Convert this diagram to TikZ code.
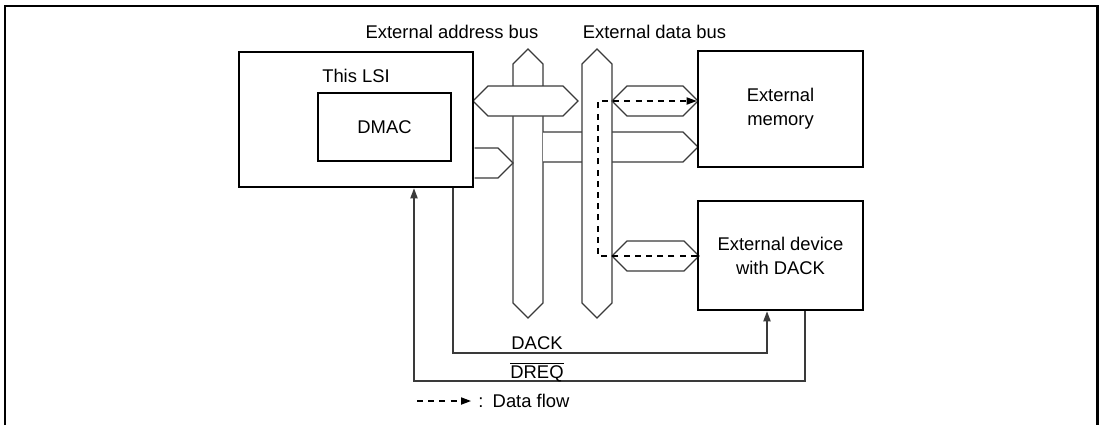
\documentclass[tikz,border=0pt]{standalone}
\usepackage{fontspec}
\setmainfont{Liberation Sans}
\usetikzlibrary{arrows.meta}
\definecolor{Wire}{HTML}{3A3A3A}
\tikzset{
  unit/.style={draw=black,line width=1.3pt,inner sep=0pt,align=center},
  wire/.style={draw=Wire,line width=.65pt},
  busline/.style={draw=Wire,line width=.65pt,fill=white},
  flow/.style={draw=black,line width=.6pt,dash pattern=on 3pt off 2.6pt,-{Triangle[length=5pt,width=3.6pt]}},
  sig/.style={wire,-{Triangle[length=5pt,width=3.6pt]}},
}
\newcommand{\vbus}[1]{%
  \filldraw[busline] (#1-15,64)--(#1,49)--(#1+15,64)--(#1+15,303)--(#1,318)--(#1-15,303)--cycle;
}
\newcommand{\dbus}[3]{%
  \filldraw[busline] (#1,#3)--(#1+15,#3-15)--(#2-15,#3-15)--(#2,#3)--(#2-15,#3+15)--(#1+15,#3+15)--cycle;
}
\newcommand{\sbus}[3]{%
  \filldraw[busline] (#1,#3-15)--(#2-15,#3-15)--(#2,#3)--(#2-15,#3+15)--(#1,#3+15);
}

\begin{document}
\begin{tikzpicture}[x=0.5pt,y=-0.5pt,font=\fontsize{9.2}{12}\selectfont]
\path[use as bounding box] (0,0) rectangle (1102,425);
\draw[line width=1.1pt] (5,425)--(5,6)--(1097.5,6)--(1097.5,425);

\node (abuslabel) at (452,32) {External address bus};
\node (dbuslabel) at (654.5,32) {External data bus};

\vbus{528}
\dbus{473}{578}{101}
\sbus{474.5}{513}{163}
\sbus{543}{698}{147}
\vbus{597}
\dbus{612}{698}{101}
\dbus{612}{699}{256}

\node[unit,minimum width=117pt,minimum height=67.5pt] (lsi) at (356,119.5) {};
\node (lsilabel) at (356,76) {This LSI};
\node[unit,minimum width=66.5pt,minimum height=34pt] (dmac) at (384.5,127) {DMAC};
\node[unit,minimum width=82.5pt,minimum height=58pt] (mem) at (780.5,109) {External\\memory};
\node[unit,minimum width=82.5pt,minimum height=54.5pt] (dev) at (780.5,255.5) {External device\\with DACK};

\coordinate (flowbot) at (598,256);
\coordinate (flowtop) at (598,101);
\draw[flow] (dev.west |- flowbot) -- (flowbot) -- (flowtop) -- (mem.west |- flowtop);

\coordinate (dackx) at (453,353);
\coordinate (dacky) at (767,353);
\draw[sig] (lsi.south -| dackx) -- (dackx) -- (dacky) -- (dev.south -| dacky);
\coordinate (dreqx) at (805,381);
\coordinate (dreqy) at (414,381);
\draw[sig] (dev.south -| dreqx) -- (dreqx) -- (dreqy) -- (lsi.south -| dreqy);
\node (dacklabel) at (537,343) {DACK};
\node (dreqlabel) at (537,372) {$\overline{\mbox{DREQ}}$};

\coordinate (legA) at (417,401);
\coordinate (legB) at (471,401);
\draw[flow] (legA) -- (legB);
\node[anchor=west,inner sep=0pt] (legtext) at (478,401) {:\enspace Data flow};
\end{tikzpicture}
\end{document}
